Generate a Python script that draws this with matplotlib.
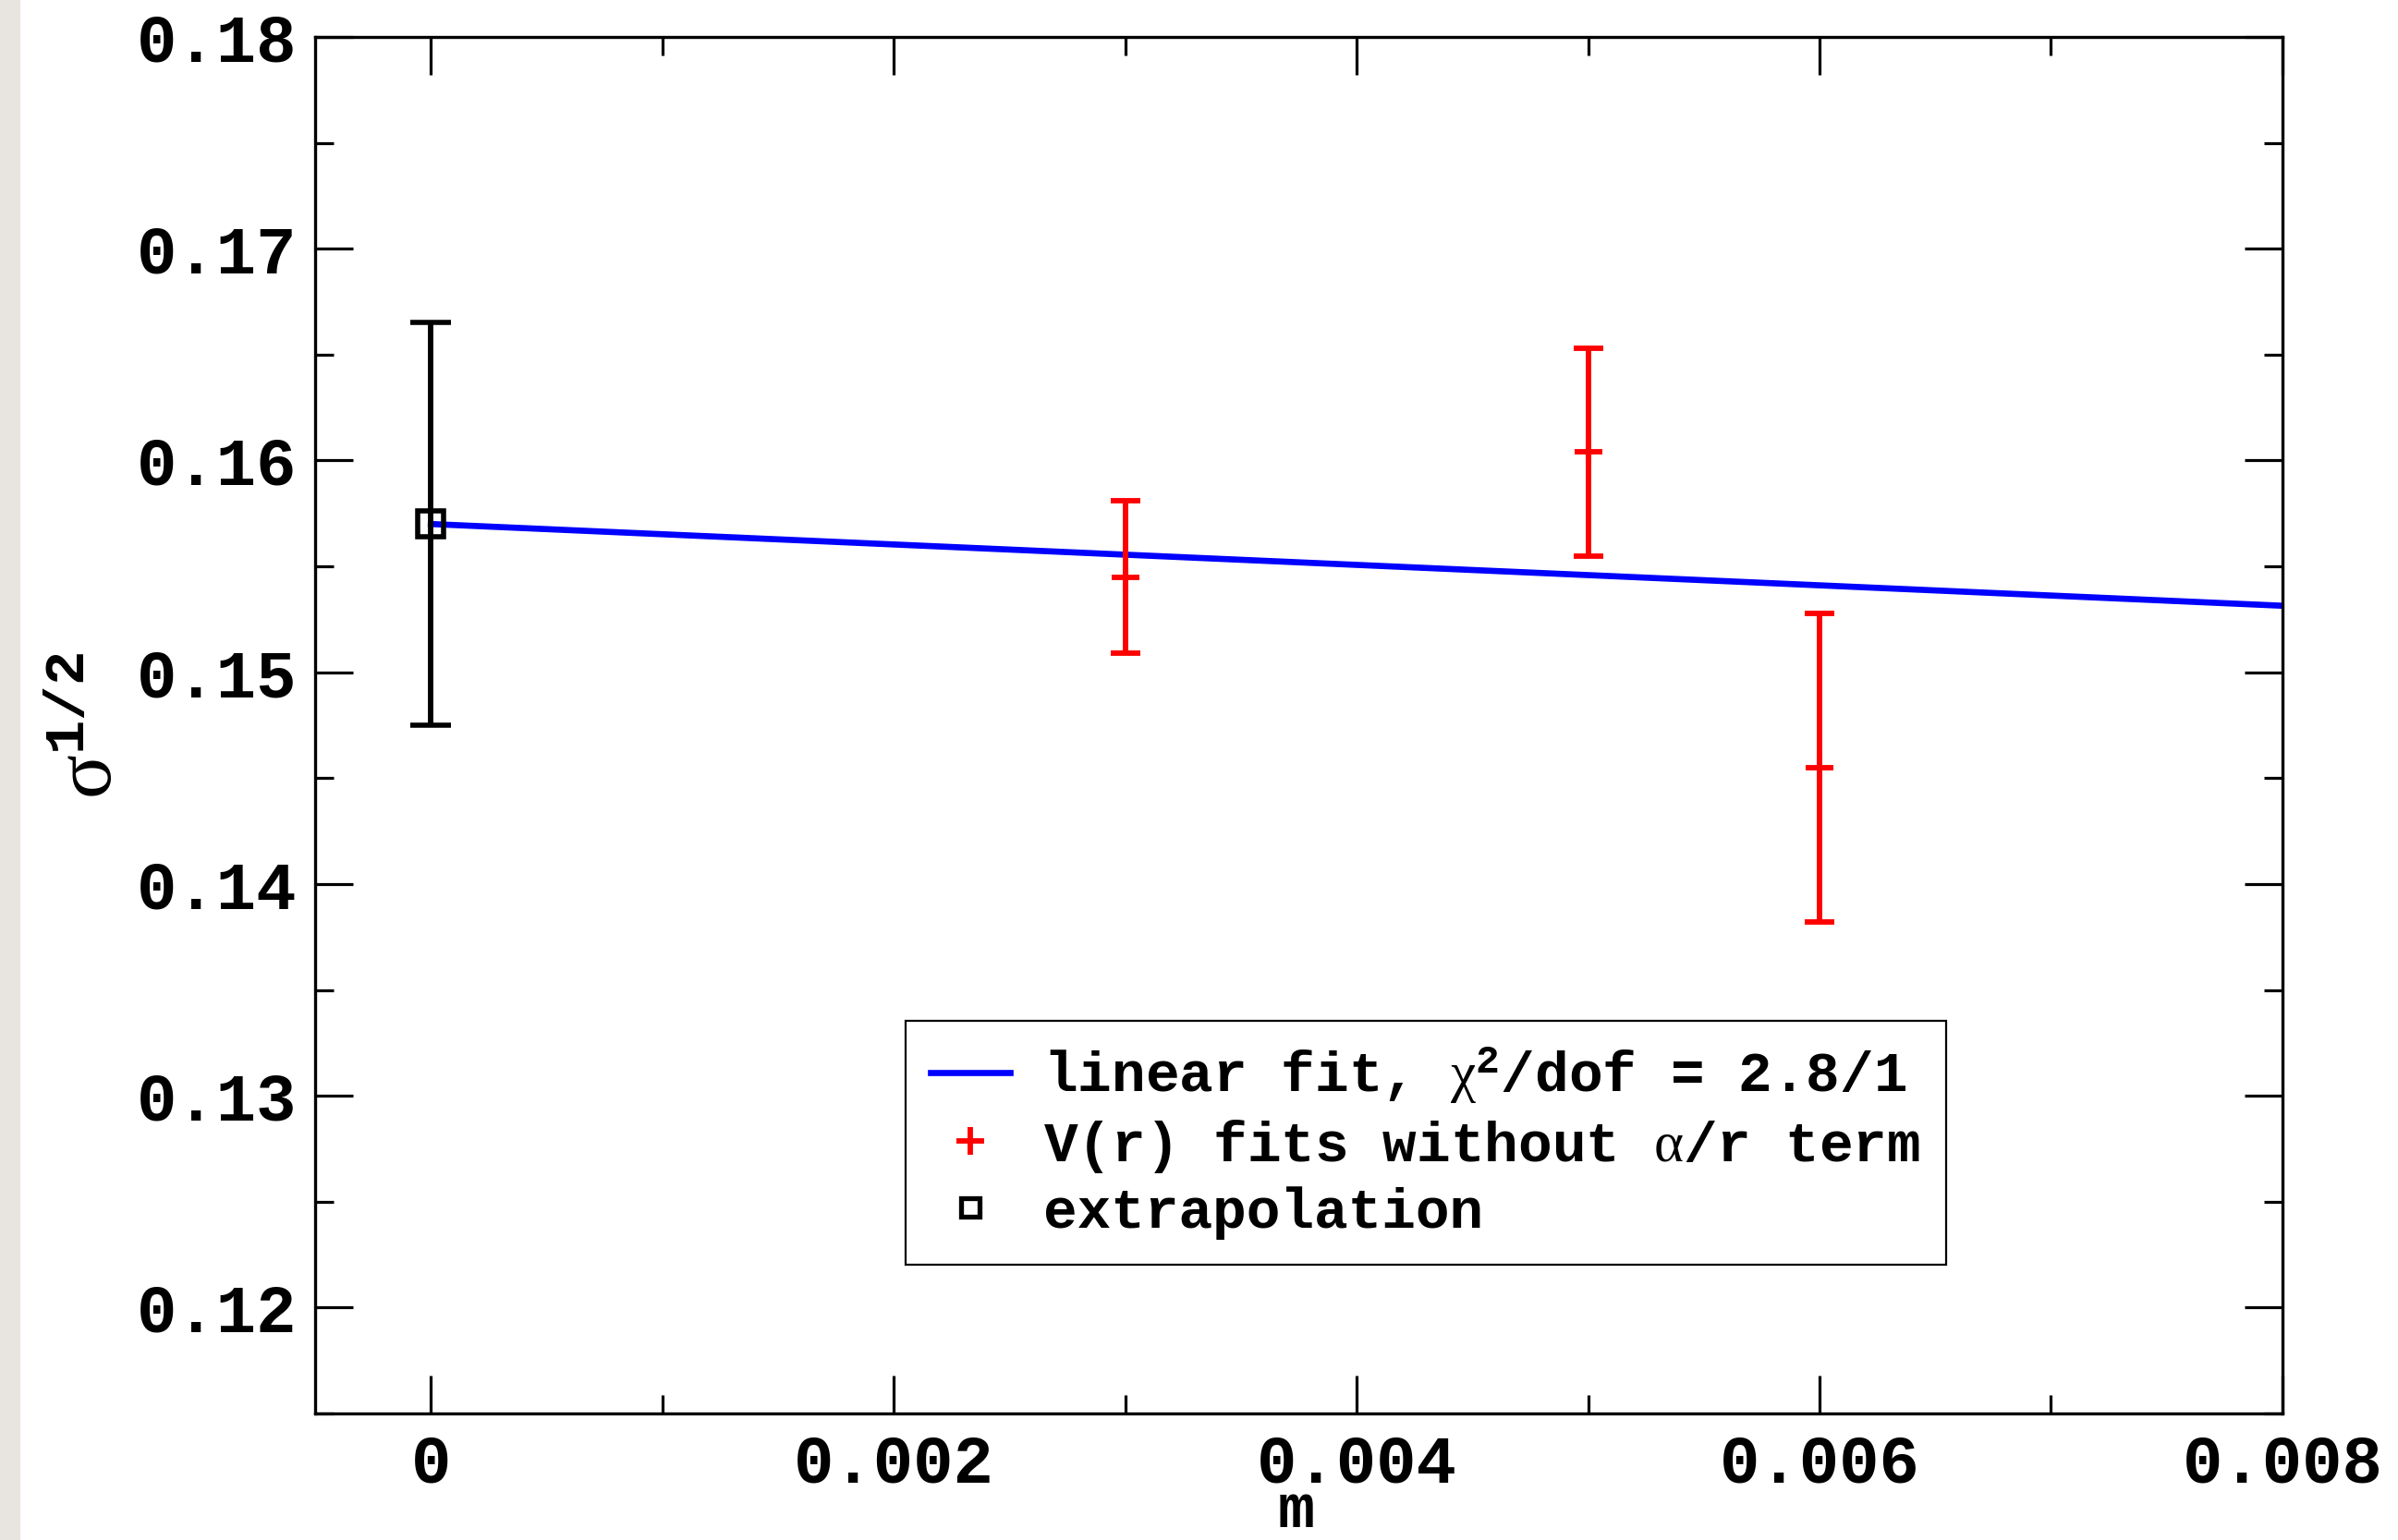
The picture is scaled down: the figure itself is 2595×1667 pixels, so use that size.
import matplotlib
matplotlib.use("Agg")
import matplotlib.pyplot as plt
from matplotlib.patches import Rectangle
from matplotlib.lines import Line2D
from matplotlib.ticker import MultipleLocator, FixedFormatter, FixedLocator
import numpy as np

# string tension sigma^(1/2) against quark mass m
m_fit = [0.003, 0.005, 0.006]
sig_fit = [0.1545, 0.1604, 0.1455]
err_fit = [0.0036, 0.0049, 0.0073]

m_extrap = [0.0]
sig_extrap = [0.1570]
err_extrap = [0.0095]

# linear fit endpoints
fit_m = [0.0, 0.008]
fit_sig = [0.1570, 0.15314]

x_ticks = [0, 0.002, 0.004, 0.006, 0.008]
x_labels = ["0", "0.002", "0.004", "0.006", "0.008"]
y_ticks = [0.12, 0.13, 0.14, 0.15, 0.16, 0.17, 0.18]
y_labels = ["0.12", "0.13", "0.14", "0.15", "0.16", "0.17", "0.18"]

MONO = "Liberation Mono"
plt.rcParams["mathtext.fontset"] = "custom"
plt.rcParams["mathtext.rm"] = "Liberation Serif"
plt.rcParams["mathtext.it"] = "Liberation Serif:italic"
plt.rcParams["mathtext.bf"] = "Liberation Mono:bold"

fig = plt.figure(figsize=(25.95, 16.67), dpi=100)
fig.patches.append(Rectangle((0, 0), 21 / 2595, 1, transform=fig.transFigure,
                             color="#e8e5e0", zorder=0))
ax = fig.add_axes([0.1314, 0.0822, 0.9518 - 0.1314, 0.976 - 0.0822])

ax.plot(fit_m, fit_sig, color="#0000ff", lw=4.8, zorder=2)
ax.errorbar(m_fit, sig_fit, yerr=err_fit, fmt="+", color="#ff0000",
            ms=22, mew=4.2, elinewidth=4.2, capsize=11.4, capthick=4.2,
            zorder=3)
ax.errorbar(m_extrap, sig_extrap, yerr=err_extrap, fmt="s", color="black",
            mfc="none", mec="black", ms=20, mew=4, elinewidth=4.2,
            capsize=15.5, capthick=4.2, zorder=4)

ax.set_xlim(-0.0005, 0.008)
ax.set_ylim(0.115, 0.18)

ax.xaxis.set_major_locator(FixedLocator(x_ticks))
ax.xaxis.set_major_formatter(FixedFormatter(x_labels))
ax.xaxis.set_minor_locator(MultipleLocator(0.001))
ax.yaxis.set_major_locator(FixedLocator(y_ticks))
ax.yaxis.set_major_formatter(FixedFormatter(y_labels))
ax.yaxis.set_minor_locator(MultipleLocator(0.005))

ax.tick_params(which="both", direction="in", top=True, right=True,
               width=2.3, color="black")
ax.tick_params(which="major", length=29.5)
ax.tick_params(which="minor", length=14.4)
ax.tick_params(axis="y", which="major", pad=14)
ax.tick_params(axis="x", which="major", pad=16)
for lab in ax.get_xticklabels() + ax.get_yticklabels():
    lab.set_fontfamily(MONO)
    lab.set_fontweight("bold")
    lab.set_fontsize(52)

for sp in ax.spines.values():
    sp.set_linewidth(2.4)

# x label sits right at the lower edge of the figure
fig.text(0.5405, 0.0, "m", ha="center", va="bottom",
         fontfamily=MONO, fontweight="bold", fontsize=48)
ax.set_ylabel(r"$\mathrm{\sigma}^{\mathbf{1/2}}$", fontsize=64, labelpad=6)

# legend shows the plain symbols only, no error bars
handles = [
    Line2D([], [], color="#0000ff", lw=4.8),
    Line2D([], [], ls="none", marker="+", color="#ff0000", ms=21, mew=4.2),
    Line2D([], [], ls="none", marker="s", mfc="none", mec="black", ms=15, mew=3.8),
]
labels = [
    r"linear fit, $\mathrm{\chi}^{\mathbf{2}}$/dof = 2.8/1",
    r"V(r) fits without $\mathrm{\alpha}$/r term",
    "extrapolation",
]
leg = ax.legend(handles, labels, loc="lower left", bbox_to_anchor=(0.300, 0.108),
                borderaxespad=0, frameon=True, fancybox=False,
                framealpha=1, edgecolor="black",
                handlelength=1.4, handletextpad=0.6, labelspacing=0.2,
                borderpad=0.45,
                prop={"family": MONO, "weight": "bold", "size": 44})
leg.get_frame().set_linewidth(1.6)

fig.savefig("out.png", dpi=100)
